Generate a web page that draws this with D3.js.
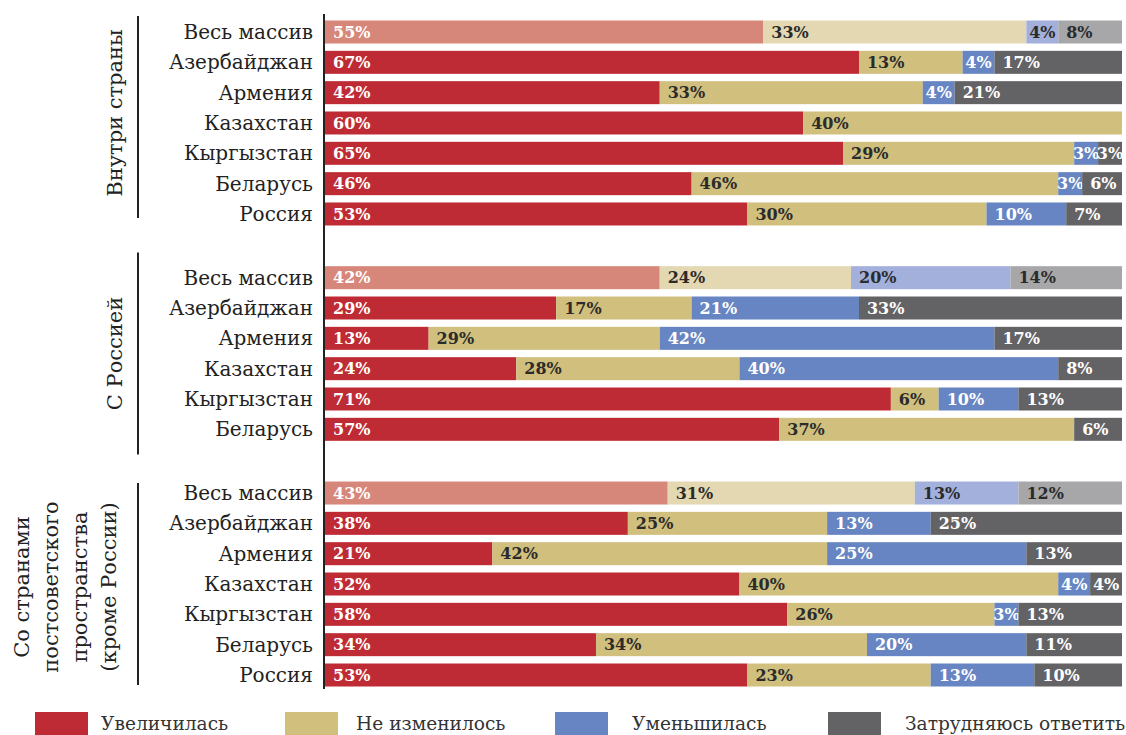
<!DOCTYPE html>
<html>
<head>
<meta charset="utf-8">
<script src="https://cdn.jsdelivr.net/npm/d3@7"></script>
<style>
  body { margin: 0; background: #fff; }
  text { font-family: "DejaVu Serif", serif; }
</style>
</head>
<body>
<script>
// data
var groups = ['Внутри страны', 'С Россией', 'Со странами постсоветского пространства (кроме России)']
var groupLines = [['Внутри страны'], ['С Россией'], ['Со странами', 'постсоветского', 'пространства', '(кроме России)']]
var countries = [
  ['Весь массив', 'Азербайджан', 'Армения', 'Казахстан', 'Кыргызстан', 'Беларусь', 'Россия'],
  ['Весь массив', 'Азербайджан', 'Армения', 'Казахстан', 'Кыргызстан', 'Беларусь'],
  ['Весь массив', 'Азербайджан', 'Армения', 'Казахстан', 'Кыргызстан', 'Беларусь', 'Россия']
]
var seriesNames = ['Увеличилась', 'Не изменилось', 'Уменьшилась', 'Затрудняюсь ответить']
var increased = [[55, 67, 42, 60, 65, 46, 53], [42, 29, 13, 24, 71, 57], [43, 38, 21, 52, 58, 34, 53]]
var unchanged = [[33, 13, 33, 40, 29, 46, 30], [24, 17, 29, 28, 6, 37], [31, 25, 42, 40, 26, 34, 23]]
var decreased = [[4, 4, 4, 0, 3, 3, 10], [20, 21, 42, 40, 10, 0], [13, 13, 25, 4, 3, 20, 13]]
var hardToSay = [[8, 17, 21, 0, 3, 6, 7], [14, 33, 17, 8, 13, 6], [12, 25, 13, 4, 13, 11, 10]]

var colors = ['#be2b35', '#d0bf7d', '#6685c2', '#636365']
var colorsLight = ['#d6877a', '#e3d8b1', '#a3b0dc', '#a7a7aa']
var textColors = ['#fff', '#2b2b2b', '#fff', '#fff']

var width = 1126, height = 735
var barLeft = 325, barRight = 1122, barH = 23
var gapRows = 1.1

var svg = d3.select('body').append('svg')
  .attr('width', width).attr('height', height)

// flatten rows
var rows = []
countries.forEach(function(list, gi) {
  list.forEach(function(name, i) {
    rows.push({
      group: gi, index: i, name: name,
      pos: rows.length + gi * gapRows,
      values: [increased[gi][i], unchanged[gi][i], decreased[gi][i], hardToSay[gi][i]]
    })
  })
})
var maxPos = rows[rows.length - 1].pos

var y = d3.scaleLinear().domain([0, maxPos]).range([32, 675])
var x = d3.scaleLinear().domain([0, 100]).range([barLeft, barRight])

// segments
rows.forEach(function(r) {
  var g = svg.append('g')
  var cum = 0
  var last = -1
  r.values.forEach(function(v, k) { if (v > 0) last = k })
  r.values.forEach(function(v, k) {
    if (v <= 0) return
    var x0 = cum
    var x1 = k == last ? 100 : Math.min(100, cum + v)
    cum += v
    var light = r.index == 0
    var px0 = x(x0), px1 = x(x1)
    g.append('rect')
      .attr('x', px0).attr('width', px1 - px0)
      .attr('y', y(r.pos) - barH / 2).attr('height', barH)
      .attr('fill', light ? colorsLight[k] : colors[k])
    var segW = x(v) - x(0)
    var t = g.append('text')
      .text(v + '%')
      .attr('y', y(r.pos))
      .attr('dy', '0.36em')
      .attr('font-size', 16)
      .attr('font-weight', 'bold')
      .attr('fill', light ? (k == 0 ? '#fff' : '#2b2b2b') : textColors[k])
    if (segW < 40) {
      t.attr('x', px0 + segW / 2).attr('text-anchor', 'middle')
    } else {
      t.attr('x', px0 + 8)
    }
  })
})

// category labels
svg.append('g').selectAll('text')
  .data(rows)
  .enter()
  .append('text')
  .text(function(d) { return d.name })
  .attr('x', 313)
  .attr('y', function(d) { return y(d.pos) })
  .attr('dy', '0.35em')
  .attr('text-anchor', 'end')
  .attr('font-size', 20)
  .attr('fill', '#222')

// main axis line
svg.append('line')
  .attr('x1', 324).attr('x2', 324)
  .attr('y1', 14).attr('y2', 689)
  .attr('stroke', '#222').attr('stroke-width', 2)

// group labels and separators
groups.forEach(function(name, gi) {
  var gr = rows.filter(function(r) { return r.group == gi })
  var cy = (y(gr[0].pos) + y(gr[gr.length - 1].pos)) / 2
  svg.append('line')
    .attr('x1', 138).attr('x2', 138)
    .attr('y1', cy - 101 - (gi == 0 ? 6 : 0)).attr('y2', cy + 101 - (gi == 0 ? 6 : 0))
    .attr('stroke', '#222').attr('stroke-width', 2)
  var lines = groupLines[gi]
  var lab = svg.append('text')
    .attr('transform', 'translate(' + (lines.length > 1 ? 109 : 115) + ',' + (cy - (gi == 0 ? 10 : 0) + (lines.length > 1 ? 3 : 0)) + ') rotate(-90)')
    .attr('text-anchor', 'middle')
    .attr('font-size', 21)
    .attr('fill', '#222')
  lines.forEach(function(l, li) {
    lab.append('tspan')
      .attr('x', 0)
      .attr('y', (li - (lines.length - 1)) * 29)
      .attr('dy', '0.35em')
      .text(l)
  })
})

// legend
var legendX = [35, 285, 555, 828]
var legend = svg.append('g')
seriesNames.forEach(function(name, k) {
  legend.append('rect')
    .attr('x', legendX[k]).attr('y', 712)
    .attr('width', 53).attr('height', 24)
    .attr('fill', colors[k])
  legend.append('text')
    .text(name)
    .attr('x', legendX[k] + 66 + (k > 0 ? 5 : 0) + (k > 1 ? 6 : 0))
    .attr('y', 723)
    .attr('dy', '0.35em')
    .attr('font-size', 18.6)
    .attr('fill', '#333')
})
</script>
</body>
</html>
